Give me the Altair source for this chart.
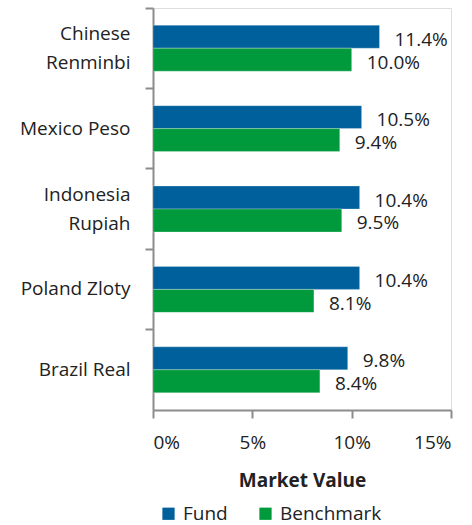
import altair as alt
import pandas as pd

currencies = ["Chinese Renminbi", "Mexico Peso", "Indonesia Rupiah", "Poland Zloty", "Brazil Real"]
fund = [11.4, 10.5, 10.4, 10.4, 9.8]
benchmark = [10.0, 9.4, 9.5, 8.1, 8.4]
series = ["Fund", "Benchmark"]
colors = ["#00609C", "#009A3D"]
x_ticks = [0, 5, 10, 15]

rows = []
for c, f, b in zip(currencies, fund, benchmark):
    rows.append({"currency": c, "series": "Fund", "value": f})
    rows.append({"currency": c, "series": "Benchmark", "value": b})
df = pd.DataFrame(rows)

FONT = "Open Sans"
FS = 19
AXIS_COLOR = "#8C8C8C"
TEXT_COLOR = "#222222"

two_line = "datum.label == 'Chinese Renminbi' || datum.label == 'Indonesia Rupiah'"
label_expr = ("datum.label == 'Chinese Renminbi' ? ['Chinese', 'Renminbi'] : "
              "datum.label == 'Indonesia Rupiah' ? ['Indonesia', 'Rupiah'] : datum.label")

y_enc = alt.Y(
    "currency:N", sort=currencies,
    scale=alt.Scale(paddingInner=0, paddingOuter=0),
    axis=alt.Axis(title=None, bandPosition=0, labelExpr=label_expr, labelFont=FONT,
                  labelFontSize=FS, labelColor=TEXT_COLOR, labelPadding=15, tickSize=8,
                  labelLineHeight=29, labelBaseline="middle",
                  labelOffset={"condition": {"test": two_line, "value": -14}, "value": 0},
                  domainColor=AXIS_COLOR, tickColor=AXIS_COLOR, domainWidth=2, tickWidth=2),
)
yoff_enc = alt.YOffset("series:N", sort=series, scale=alt.Scale(paddingInner=0, paddingOuter=0.75))
x_enc = alt.X(
    "value:Q",
    scale=alt.Scale(domain=[0, 15], nice=False),
    axis=alt.Axis(title="Market Value", values=x_ticks, labelExpr="datum.value + '%'", grid=False,
                  labelFont=FONT, labelFontSize=FS, labelColor=TEXT_COLOR, tickSize=8,
                  labelPadding=15, titleFont=FONT, titleFontSize=FS, titleFontWeight="bold",
                  titleColor=TEXT_COLOR, titlePadding=19,
                  domainColor=AXIS_COLOR, tickColor=AXIS_COLOR, domainWidth=2, tickWidth=2),
)

bars = alt.Chart(df).mark_bar(stroke="#ffffff", strokeWidth=0.5, strokeOpacity=0.5).encode(
    x=x_enc, y=y_enc, yOffset=yoff_enc,
    color=alt.Color("series:N", sort=series,
                    scale=alt.Scale(domain=series, range=colors),
                    legend=alt.Legend(title=None, orient="none", legendX=6, legendY=496,
                                      direction="horizontal", symbolType="square",
                                      symbolSize=150, symbolStrokeWidth=0,
                                      labelFont=FONT, labelFontSize=FS, labelColor=TEXT_COLOR,
                                      columnPadding=28, labelOffset=5)),
)

texts = alt.Chart(df).transform_calculate(
    label="format(datum.value, '.1f') + '%'"
).mark_text(align="left", baseline="middle", dx=15, dy=3, font=FONT, fontSize=FS,
            color=TEXT_COLOR).encode(
    x=alt.X("value:Q"), y=alt.Y("currency:N", sort=currencies), yOffset=yoff_enc,
    text="label:N",
)

chart = alt.layer(bars, texts).properties(
    width=298, height=402,
    autosize=alt.AutoSizeParams(type="none"),
    padding={"left": 153, "top": 8, "right": 21, "bottom": 115},
).configure_view(stroke=None).configure(background="white")

chart.save("out.html", embed_options={"renderer": "svg", "actions": False})
